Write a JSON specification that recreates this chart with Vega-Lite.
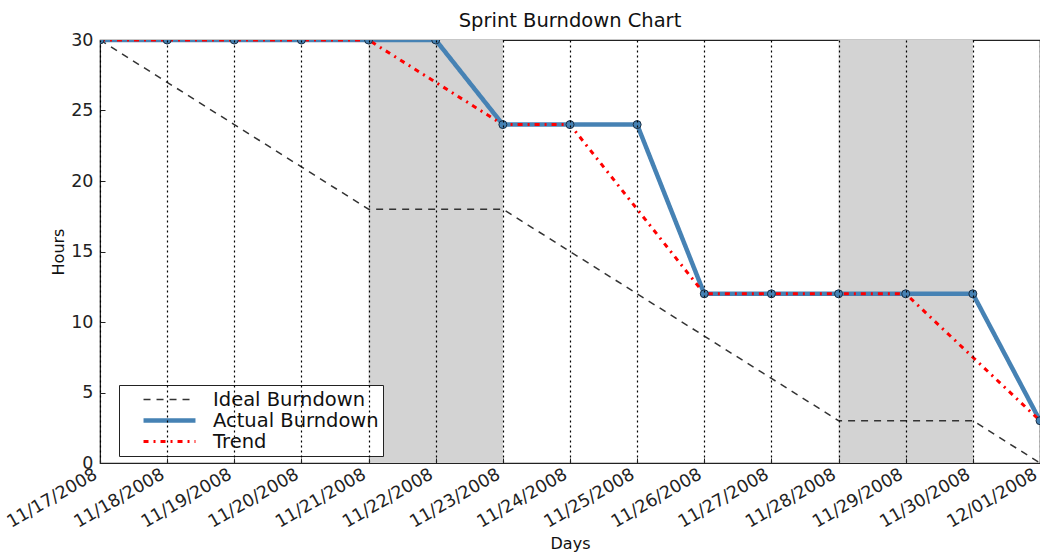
{
  "$schema": "https://vega.github.io/schema/vega-lite/v6.json",
  "autosize": {"type": "none"},
  "width": 940,
  "height": 423,
  "padding": {"left": 100, "top": 40, "right": 0, "bottom": 90},
  "background": "white",
  "config": {
    "font": "DejaVu Sans",
    "view": {"stroke": "#222", "strokeWidth": 1.2},
    "axis": {"labelFont": "DejaVu Sans", "titleFont": "DejaVu Sans", "labelColor": "#222", "titleColor": "#111", "domainColor": "#222", "tickColor": "#222", "titleFontWeight": "normal"}
  },
  "title": {"text": "Sprint Burndown Chart", "fontSize": 19.5, "fontWeight": "normal", "font": "DejaVu Sans", "color": "#111", "offset": 0},
  "datasets": {
    "shade": [
      {"start": "2008-11-21", "end": "2008-11-23"},
      {"start": "2008-11-28", "end": "2008-11-30"}
    ],
    "lines": [
      {"date": "2008-11-17", "series": "Ideal Burndown", "hours": 30},
      {"date": "2008-11-18", "series": "Ideal Burndown", "hours": 27},
      {"date": "2008-11-19", "series": "Ideal Burndown", "hours": 24},
      {"date": "2008-11-20", "series": "Ideal Burndown", "hours": 21},
      {"date": "2008-11-21", "series": "Ideal Burndown", "hours": 18},
      {"date": "2008-11-22", "series": "Ideal Burndown", "hours": 18},
      {"date": "2008-11-23", "series": "Ideal Burndown", "hours": 18},
      {"date": "2008-11-24", "series": "Ideal Burndown", "hours": 15},
      {"date": "2008-11-25", "series": "Ideal Burndown", "hours": 12},
      {"date": "2008-11-26", "series": "Ideal Burndown", "hours": 9},
      {"date": "2008-11-27", "series": "Ideal Burndown", "hours": 6},
      {"date": "2008-11-28", "series": "Ideal Burndown", "hours": 3},
      {"date": "2008-11-29", "series": "Ideal Burndown", "hours": 3},
      {"date": "2008-11-30", "series": "Ideal Burndown", "hours": 3},
      {"date": "2008-12-01", "series": "Ideal Burndown", "hours": 0},
      {"date": "2008-11-17", "series": "Actual Burndown", "hours": 30},
      {"date": "2008-11-18", "series": "Actual Burndown", "hours": 30},
      {"date": "2008-11-19", "series": "Actual Burndown", "hours": 30},
      {"date": "2008-11-20", "series": "Actual Burndown", "hours": 30},
      {"date": "2008-11-21", "series": "Actual Burndown", "hours": 30},
      {"date": "2008-11-22", "series": "Actual Burndown", "hours": 30},
      {"date": "2008-11-23", "series": "Actual Burndown", "hours": 24},
      {"date": "2008-11-24", "series": "Actual Burndown", "hours": 24},
      {"date": "2008-11-25", "series": "Actual Burndown", "hours": 24},
      {"date": "2008-11-26", "series": "Actual Burndown", "hours": 12},
      {"date": "2008-11-27", "series": "Actual Burndown", "hours": 12},
      {"date": "2008-11-28", "series": "Actual Burndown", "hours": 12},
      {"date": "2008-11-29", "series": "Actual Burndown", "hours": 12},
      {"date": "2008-11-30", "series": "Actual Burndown", "hours": 12},
      {"date": "2008-12-01", "series": "Actual Burndown", "hours": 3},
      {"date": "2008-11-17", "series": "Trend", "hours": 30},
      {"date": "2008-11-18", "series": "Trend", "hours": 30},
      {"date": "2008-11-19", "series": "Trend", "hours": 30},
      {"date": "2008-11-20", "series": "Trend", "hours": 30},
      {"date": "2008-11-21", "series": "Trend", "hours": 30},
      {"date": "2008-11-22", "series": "Trend", "hours": 27},
      {"date": "2008-11-23", "series": "Trend", "hours": 24},
      {"date": "2008-11-24", "series": "Trend", "hours": 24},
      {"date": "2008-11-25", "series": "Trend", "hours": 18},
      {"date": "2008-11-26", "series": "Trend", "hours": 12},
      {"date": "2008-11-27", "series": "Trend", "hours": 12},
      {"date": "2008-11-28", "series": "Trend", "hours": 12},
      {"date": "2008-11-29", "series": "Trend", "hours": 12},
      {"date": "2008-11-30", "series": "Trend", "hours": 7.5},
      {"date": "2008-12-01", "series": "Trend", "hours": 3}
    ]
  },
  "layer": [
    {
      "data": {"name": "shade"},
      "mark": {"type": "rect", "color": "#d3d3d3"},
      "encoding": {
        "x": {"field": "start", "type": "temporal", "scale": {"type": "utc"}},
        "x2": {"field": "end"}
      }
    },
    {
      "data": {"name": "lines"},
      "mark": {"type": "line", "clip": true},
      "encoding": {
        "x": {
          "field": "date", "type": "temporal",
          "scale": {"type": "utc", "domain": ["2008-11-17", "2008-12-01"], "nice": false},
          "axis": {
            "title": "Days", "titleFontSize": 16, "titlePadding": 5,
            "labelExpr": "utcFormat(datum.value, '%m/%d/%Y')", "tickCount": "day",
            "labelAngle": -30, "labelAlign": "right", "labelBaseline": "top",
            "labelFontSize": 17.5, "labelPadding": 7, "labelOffset": -9, "labelOverlap": false, "labelFlush": false, "labelBound": false,
            "tickSize": -5, "grid": true, "gridColor": "#000", "gridDash": [2, 3], "gridWidth": 1.2, "gridOpacity": 1,
            "zindex": 1
          }
        },
        "y": {
          "field": "hours", "type": "quantitative",
          "scale": {"domain": [0, 30], "nice": false},
          "axis": {
            "title": "Hours", "titleFontSize": 16, "titlePadding": 4,
            "values": [0, 5, 10, 15, 20, 25, 30],
            "labelFontSize": 17.5, "labelPadding": 12, "tickSize": -5, "grid": false
          }
        },
        "color": {
          "field": "series", "type": "nominal",
          "scale": {"domain": ["Ideal Burndown", "Actual Burndown", "Trend"], "range": ["#333333", "#4682b4", "#ff0000"]},
          "legend": {
            "title": null, "orient": "none", "legendX": 19, "legendY": 345,
            "symbolType": "stroke", "symbolSize": 2700, "symbolOffset": 18, "labelFontSize": 19.5, "labelFont": "DejaVu Sans", "labelColor": "#111", "labelLimit": 400,
            "labelExpr": "datum.label + '\u00a0\u00a0\u00a0'",
            "strokeColor": "#222", "fillColor": "white", "padding": 4, "rowPadding": 0, "labelOffset": 15,
            "clipHeight": 21
          }
        },
        "strokeDash": {
          "field": "series", "type": "nominal",
          "scale": {"domain": ["Ideal Burndown", "Actual Burndown", "Trend"], "range": [[7, 6], [1, 0], [5, 5, 2, 5]]}
        },
        "strokeWidth": {
          "field": "series", "type": "nominal",
          "scale": {"type": "ordinal", "domain": ["Ideal Burndown", "Actual Burndown", "Trend"], "range": [1.5, 4.5, 3]}
        },
        "order": {"field": "date"}
      }
    },
    {
      "data": {"name": "lines"},
      "transform": [{"filter": "datum.series === 'Actual Burndown'"}],
      "mark": {"type": "point", "filled": true, "fill": "#4682b4", "stroke": "#1a2f45", "strokeWidth": 1, "size": 64, "opacity": 1, "clip": true},
      "encoding": {
        "x": {"field": "date", "type": "temporal"},
        "y": {"field": "hours", "type": "quantitative"}
      }
    }
  ]
}
